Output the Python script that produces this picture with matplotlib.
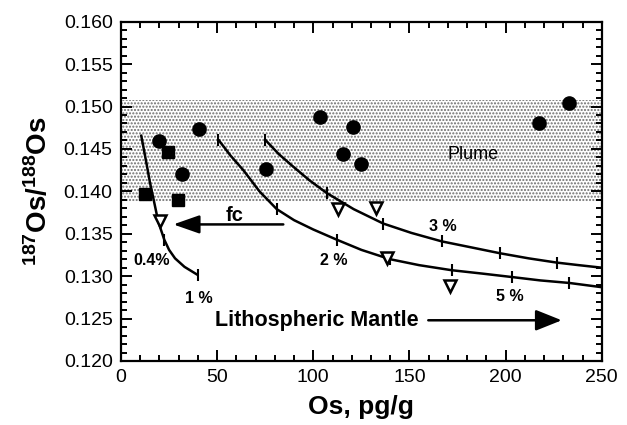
import matplotlib
matplotlib.use("Agg")
import matplotlib.pyplot as plt
from matplotlib.ticker import MultipleLocator, FormatStrFormatter

plt.rcParams['font.family'] = ['Liberation Sans', 'DejaVu Sans']
plt.rcParams['mathtext.fontset'] = 'custom'
plt.rcParams['mathtext.rm'] = 'Liberation Sans'
plt.rcParams['mathtext.bf'] = 'Liberation Sans:bold'
plt.rcParams['hatch.linewidth'] = 1.0

# ---- data ----
circle_os = [19.9, 31.6, 40.4, 75.2, 103.5, 120.8, 115.3, 124.6, 217.5, 232.9]
circle_ratio = [0.1459, 0.1420, 0.1474, 0.1426, 0.1488, 0.1476, 0.1444, 0.1432, 0.1481, 0.1504]

square_os = [24.6, 12.5, 29.5]
square_ratio = [0.1446, 0.1397, 0.1390]

triangle_os = [20.3, 113.0, 132.6, 138.2, 171.1]
triangle_ratio = [0.1365, 0.1379, 0.1380, 0.1321, 0.1288]

curveA_os = [10.4, 12.0, 13.4, 15.0, 16.8, 19.4, 22.5, 25.0, 28.1, 33.0, 40.2]
curveA_ratio = [0.1467, 0.1448, 0.1431, 0.1411, 0.1392, 0.1364, 0.1343, 0.1331, 0.1321, 0.1311, 0.1301]
curveA_tick_os = [22.5, 40.2]
curveA_tick_ratio = [0.1343, 0.1301]

curveB_os = [50.6, 57.0, 63.6, 72.0, 81.0, 90.0, 100.0, 112.2, 125.0, 139.9, 155.0, 172.0, 188.0, 203.2, 218.0, 233.1, 250.0]
curveB_ratio = [0.1461, 0.1442, 0.1425, 0.1400, 0.1379, 0.1366, 0.1355, 0.1343, 0.1331, 0.1320, 0.1313, 0.1307, 0.1303, 0.1299, 0.1295, 0.1292, 0.1287]
curveB_tick_os = [50.6, 81.0, 112.2, 139.9, 172.0, 203.2, 233.1]
curveB_tick_ratio = [0.1461, 0.1379, 0.1343, 0.1320, 0.1307, 0.1299, 0.1292]

curveC_os = [74.9, 82.0, 89.6, 98.0, 107.0, 121.0, 136.4, 151.0, 166.8, 182.0, 197.1, 212.0, 226.6, 238.0, 250.0]
curveC_ratio = [0.1461, 0.1444, 0.1429, 0.1413, 0.1398, 0.1379, 0.1362, 0.1351, 0.1341, 0.1334, 0.1327, 0.1321, 0.1316, 0.1313, 0.1310]
curveC_tick_os = [74.9, 107.0, 136.4, 166.8, 197.1, 226.6]
curveC_tick_ratio = [0.1461, 0.1398, 0.1362, 0.1341, 0.1327, 0.1316]

plume_band = [0.1388, 0.1508]

curve_labels = ["0.4%", "1 %", "2 %", "3 %", "5 %"]
curve_label_os = [16.0, 40.6, 110.4, 167.6, 202.3]
curve_label_ratio = [0.1318, 0.1274, 0.1319, 0.1358, 0.1276]

xticks = [0, 50, 100, 150, 200, 250]
yticks = [0.120, 0.125, 0.130, 0.135, 0.140, 0.145, 0.150, 0.155, 0.160]

# ---- figure ----
fig = plt.figure(figsize=(6.27, 4.25), dpi=100)
ax = fig.add_axes([0.193, 0.1506, 0.9597 - 0.193, 0.949 - 0.1506])

ax.axhspan(plume_band[0], plume_band[1], xmin=0, xmax=1, facecolor='white',
           edgecolor='#6e6e6e', hatch='.....', linewidth=0, zorder=0)

for xs, ys, txs, tys in [(curveA_os, curveA_ratio, curveA_tick_os, curveA_tick_ratio),
                         (curveB_os, curveB_ratio, curveB_tick_os, curveB_tick_ratio),
                         (curveC_os, curveC_ratio, curveC_tick_os, curveC_tick_ratio)]:
    ax.plot(xs, ys, color='black', lw=1.8, zorder=2, solid_capstyle='butt')
    ax.plot(txs, tys, linestyle='none', marker='|', markersize=9, mew=1.5, color='black', zorder=2)

ax.plot(circle_os, circle_ratio, linestyle='none', marker='o', markersize=9.5,
        color='black', zorder=3)
ax.plot(square_os, square_ratio, linestyle='none', marker='s', markersize=8.5,
        color='black', zorder=3)
ax.plot(triangle_os, triangle_ratio, linestyle='none', marker='v', markersize=9,
        markerfacecolor='white', markeredgecolor='black', mew=1.8, zorder=4)

for lab, x, y in zip(curve_labels, curve_label_os, curve_label_ratio):
    ax.text(x, y, lab, fontsize=11.5, fontweight='bold', ha='center', va='center', zorder=5)

ax.text(182.9, 0.1444, "Plume", fontsize=13, ha='center', va='center', zorder=5)

# fc arrow
ax.annotate('', xy=(27.2, 0.1361), xytext=(84.4, 0.1361),
            arrowprops=dict(arrowstyle='-|>,head_length=0.8,head_width=0.28',
                            mutation_scale=20, lw=1.8, color='black',
                            shrinkA=0, shrinkB=0), zorder=5)
ax.text(58.8, 0.1372, "fc", fontsize=14.5, fontweight='bold', ha='center', va='center', zorder=5)

# lithospheric mantle arrow
ax.text(48.9, 0.1248, "Lithospheric Mantle", fontsize=15.5, fontweight='bold',
        ha='left', va='center', zorder=5)
ax.annotate('', xy=(229.2, 0.1248), xytext=(159.8, 0.1248),
            arrowprops=dict(arrowstyle='-|>,head_length=0.8,head_width=0.32',
                            mutation_scale=20, lw=1.8, color='black',
                            shrinkA=0, shrinkB=0), zorder=5)

ax.set_xlim(0, 250)
ax.set_ylim(0.120, 0.160)
ax.set_xticks(xticks)
ax.set_yticks(yticks)
ax.xaxis.set_minor_locator(MultipleLocator(10))
ax.yaxis.set_minor_locator(MultipleLocator(0.001))
ax.yaxis.set_major_formatter(FormatStrFormatter('%.3f'))
ax.tick_params(which='both', direction='in', top=True, right=True, width=1.4)
ax.tick_params(which='major', length=8, labelsize=14, pad=6)
ax.tick_params(which='minor', length=4.5)
for s in ax.spines.values():
    s.set_linewidth(1.6)

ax.set_xlabel("Os, pg/g", fontsize=19, fontweight='bold', labelpad=6)
ax.set_ylabel(r'$\mathbf{^{187}Os/^{188}Os}$', fontsize=20, labelpad=8)

fig.savefig("out.png", dpi=100)
